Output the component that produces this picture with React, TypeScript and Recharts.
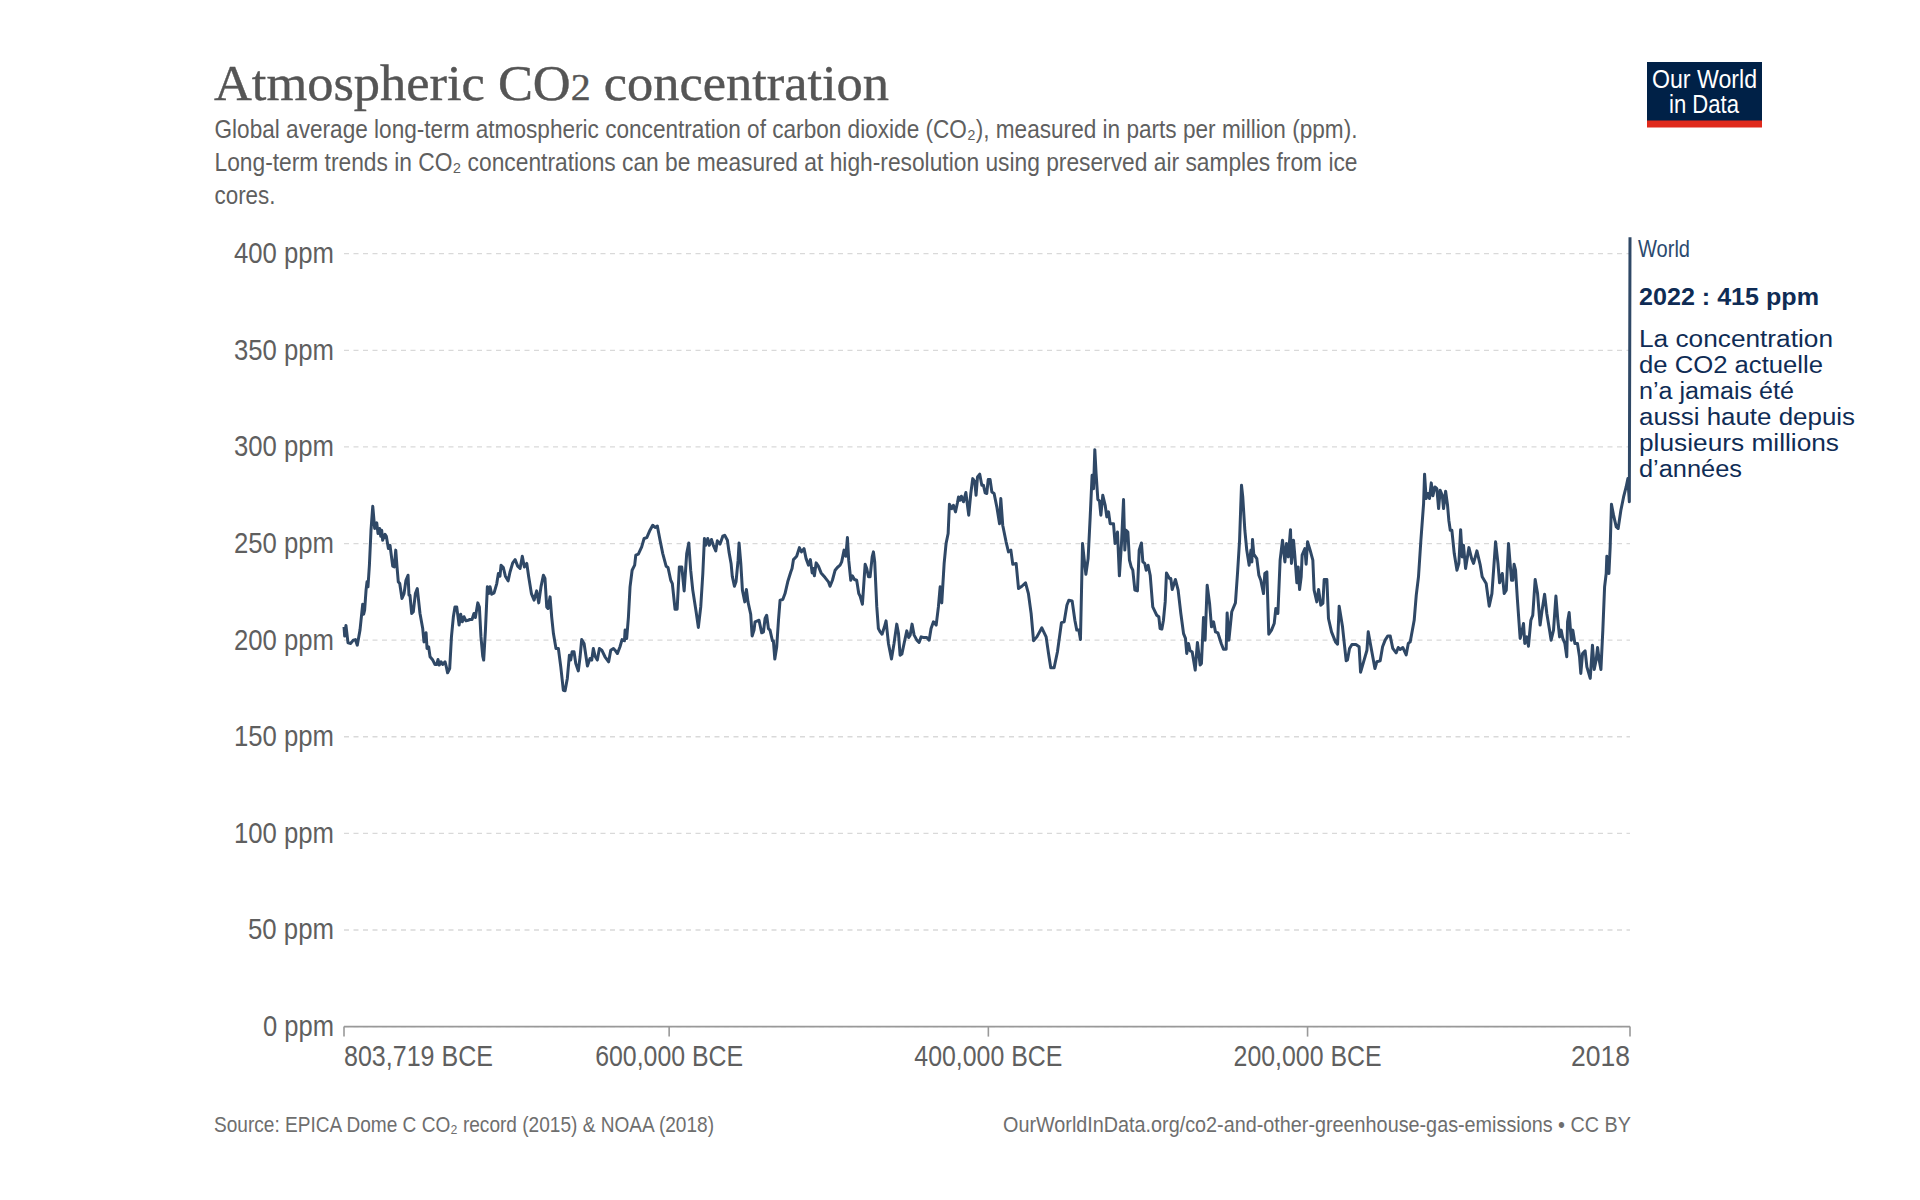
import React from "react";
import { LineChart, Line, XAxis, YAxis, CartesianGrid } from "recharts";

// Years are in thousands of years relative to year 0 (negative = BCE)
const years1 = [-803.7,-803.3,-802.5,-801.2,-799.5,-797.9,-796.6,-795.4,-793.7,-792.0,-791.4,-790.8,-789.9,-789.3,-788.7,-787.8,-786.8,-785.7,-784.5,-783.2,-782.4,-781.4,-780.7,-780.1,-779.5,-778.0,-777.2,-775.9,-774.9,-773.2,-772.2,-771.3,-770.5,-769.7,-768.8,-767.4,-766.1,-764.9,-763.6,-763.0,-762.4,-761.3,-760.3,-759.0,-757.8,-756.1,-754.4,-753.6,-752.3,-751.7,-750.7,-749.8,-748.1,-746.7,-745.6,-744.8,-744.0,-742.9,-741.9,-740.4,-739.6,-738.8,-737.5,-736.4,-735.2,-734.2,-733.1,-731.6,-730.6,-729.6,-728.5,-727.3,-726.0,-724.8,-723.5,-722.3,-721.4,-719.9,-718.9,-717.9,-716.8,-716.2,-715.1,-713.9,-713.1,-712.2,-711.2,-709.7,-708.0,-707.0,-706.0,-705.3,-703.9,-702.6,-700.9,-699.7,-698.0,-696.5,-694.9,-693.4,-692.0,-690.7,-689.2,-688.0,-686.3,-684.6,-683.0,-681.7,-680.3,-678.8,-677.8,-676.7,-675.9,-674.6,-673.6,-672.5,-670.9,-669.4,-667.9,-666.3,-665.2,-663.8,-662.5,-661.7,-660.8,-659.6,-658.5,-656.9,-655.8,-654.8,-653.3,-651.2,-649.6,-648.5,-647.5,-646.4,-645.0,-643.7,-642.2,-640.2,-637.9,-636.6,-634.9,-633.9,-632.4,-630.8,-629.5,-628.0,-627.6,-626.6,-625.5,-624.5,-623.2,-621.6,-620.9,-619.3,-617.2,-615.7,-614.0,-612.0,-610.3,-608.8,-607.4,-605.7,-604.0,-601.9,-600.7,-599.0,-598.0,-596.3,-595.0,-593.6,-592.1,-590.6,-589.0,-587.7,-586.5,-585.2,-583.1,-581.7,-580.2,-578.9,-577.9,-577.1,-575.8,-574.8,-573.5,-572.3,-570.8,-569.8,-568.1,-566.4,-565.2];
const ppm1 = [206.9,202.1,207.6,198.6,198.3,200,200.3,197.4,205.2,218.6,213.4,215.5,225.9,230.2,227.6,238.8,256.9,269.3,257.8,260.7,255.2,257.8,253.8,256.9,251.7,254.8,253.8,247.4,249.1,238.3,237.9,246.6,237.9,230.2,229.3,221.6,224.1,231,233.6,223.3,223.3,213.8,214.7,224.1,226.7,213.8,206,199.1,203.8,195.7,196.6,191.4,189.7,187.4,187.4,190,187.1,188.8,187.4,188.8,186.2,183.1,185.3,201.7,212.1,217.2,217.2,207.8,213.4,209.5,212.1,210,210.3,210.7,210.7,213.8,211.7,219.3,217.2,201.7,191.7,189.7,205.2,227.6,224.1,227.6,223.8,224.5,229.3,234.5,233.1,238.8,237.6,233.1,230.7,235.3,240,241.7,238.3,237.1,243.4,237.9,239.7,232.8,224.1,220.7,225.5,219.3,227.6,233.6,231.9,217.2,216.4,222.4,212.1,203.4,195.7,195.7,186.2,174.1,173.8,180.2,192.2,189.7,194,194,187.9,184.1,191.4,200.3,198.3,186.6,190.5,189.7,195.7,191.7,189.7,195.7,194.8,191.4,188.8,194.8,195.7,194.8,193.1,196.6,200.3,199.7,205.2,200.9,212.1,227.6,236.2,238.8,244,244.5,248.3,252.6,253.1,256.9,259.5,258.3,259.1,251.7,244.8,238.3,237.6,231,229.3,216,216,237.9,237.9,225.5,244.8,250.3,236.2,225.9,214.7,206.6,217.2,234.5,252.6,249.1,252.6,249.1,252.1,249.1,246.2,251.4,249.7,253.8,254.3];

const years2 = [-563.5,-562.5,-561.2,-560.4,-559.1,-558.1,-556.8,-556.2,-555.1,-554.1,-552.6,-551.6,-550.6,-548.9,-548.0,-546.8,-546.2,-544.7,-543.7,-542.0,-540.9,-539.9,-538.9,-537.8,-536.8,-535.3,-534.7,-533.8,-532.6,-531.5,-530.5,-528.8,-527.4,-525.7,-523.8,-523.0,-522.1,-520.1,-518.4,-517.1,-515.5,-514.2,-512.7,-511.5,-510.4,-509.6,-509.0,-507.9,-506.5,-504.8,-502.3,-500.2,-499.2,-497.7,-496.0,-494.6,-492.9,-491.9,-490.4,-489.3,-488.3,-487.5,-486.2,-485.2,-483.9,-482.5,-481.2,-480.4,-478.9,-477.2,-476.2,-475.1,-474.1,-472.8,-472.0,-471.2,-469.9,-468.9,-467.8,-466.6,-465.1,-464.1,-462.6,-460.7,-459.1,-457.4,-456.3,-455.3,-454.2,-452.8,-451.1,-449.9,-449.0,-447.8,-446.5,-444.8,-443.4,-442.1,-440.7,-438.6,-437.1,-435.9,-434.4,-432.7,-431.3,-430.2,-429.2,-427.7,-426.5,-425.2,-424.4,-422.9,-421.9,-420.6,-419.4,-418.7,-417.7,-416.9,-415.6,-414.1,-412.3,-411.0,-409.8,-408.5,-407.7,-406.8,-405.4,-404.1,-403.1,-402.0,-401.0,-400.1,-398.9,-397.8,-396.4,-394.7,-393.0,-392.2,-391.0,-388.9,-387.4,-385.9,-384.7,-382.6,-381.1,-379.0,-376.7,-374.9,-373.2,-371.7,-369.6,-366.5,-363.8,-362.3,-360.9,-358.8,-356.7,-354.2,-352.5,-350.8,-349.6,-347.5,-345.8,-344.6,-343.3,-342.3,-341.4,-341.0,-340.0,-338.9,-337.5,-336.2,-335.0,-334.1,-333.3,-332.5,-331.4,-330.4,-329.5,-328.3,-326.8,-325.8,-324.7,-323.7];
const ppm2 = [251.7,245.7,239.7,232.8,227.9,230.2,241.4,250.3,239.7,225.9,219.8,226.2,219.8,213.4,202.2,205.2,209.5,210,210.3,203.8,204.3,211.2,212.9,206,205.2,199.7,199.7,190.2,196.6,210.3,220.7,221,224.1,230.2,235.3,237.1,241.7,243.4,247.9,245.7,247.4,242.2,238.8,241.7,234.8,237.1,233.3,240,238.3,234.8,232.4,230.2,227.9,231,236.2,237.6,238.8,240.5,246.6,243.4,253.1,241.4,231,233.3,231.4,231,224.1,222.9,218.6,239.3,237.1,232.8,232.8,243.1,245.7,240.5,217.2,206,204.3,203.1,206.9,210,198.3,190.3,198.3,208.3,203.4,192.2,192.8,198.3,204.8,201.4,202.6,208.3,202.6,200,198.8,201.7,201.4,201.4,200,206,209.5,207.8,217.2,227.6,219.3,239.7,250,255.2,270.3,268.1,269.8,266.4,271,274.1,272.4,274.5,271.6,276.4,264.7,275.9,283.6,281.9,275,284.5,285.9,280.2,280.2,276.2,275.9,283.1,283.1,276.7,275.9,269,260.3,273.3,259.5,250.9,245.7,246.6,239.3,239.7,226.7,227.9,229.7,224.1,213.8,199.7,201.7,206.4,201.7,193.1,185.7,185.7,194,209.1,209.5,218.1,220.7,220.3,210.3,205.2,205.2,200.3,234.5,250,242.2,234.1,242.2,263.8,285.3,278.4,298.6,286.2,272.8,272.1,264.7,275,269.8,263.8,266.4,260.3];

const years3 = [-321.6,-320.6,-319.1,-317.9,-316.6,-315.3,-314.5,-313.7,-312.6,-311.6,-310.5,-309.5,-308.2,-306.6,-305.5,-304.1,-303.2,-302.0,-301.1,-299.9,-298.6,-297.0,-294.5,-293.2,-292.4,-291.3,-290.3,-289.2,-288.4,-286.5,-285.7,-284.8,-282.8,-281.1,-279.4,-277.7,-276.5,-275.7,-274.6,-273.6,-272.3,-270.4,-269.0,-267.3,-266.5,-265.2,-264.2,-262.9,-261.4,-260.2,-258.9,-257.7,-256.2,-254.1,-252.7,-251.0,-250.4,-249.3,-247.5,-245.2,-243.9,-242.6,-241.4,-240.6,-239.3,-238.1,-236.6,-235.5,-234.9,-234.5,-233.7,-231.8,-230.5,-229.3,-227.6,-226.8,-225.5,-224.3,-222.6,-220.9,-219.9,-218.6,-217.2,-215.7,-214.2,-213.2,-212.1,-210.7,-210.1,-208.8,-208.0,-206.7,-205.9,-205.0,-204.0,-203.4,-201.7,-200.9,-200.0,-198.4,-196.7,-195.9,-194.2,-193.1,-191.7,-190.4,-189.6,-187.9,-186.9,-185.0,-182.5,-181.2,-180.2,-178.1,-177.0,-175.8,-175.0,-173.7,-172.2,-169.7,-167.7,-166.8,-164.9,-162.8,-162.0,-160.3,-157.8,-156.6,-154.5,-153.0,-151.4,-149.7,-148.2,-146.6,-144.5,-143.2,-142.0,-140.3,-138.2,-136.9,-135.7,-133.2,-131.9,-130.5,-129.0,-127.3,-126.7,-125.7,-124.6,-123.6,-122.5,-121.5,-120.2,-119.0,-117.9,-116.9,-115.6,-114.8,-113.5,-112.3,-111.5,-110.6,-109.6,-108.1,-106.4,-105.2,-104.1,-103.1,-102.3,-101.0,-98.9,-97.2,-96.0,-93.9,-91.8,-90.6,-88.1,-86.2,-84.5,-82.2,-80.7,-79.7,-78.0,-76.8,-75.5];
const ppm3 = [260.3,250,256,233.3,250,272.8,246.6,256.9,256,241.4,237.9,236.2,225.9,225.5,246.6,250.3,240.5,239.7,236.2,238.8,233.6,217.2,212.9,212.1,206,205.7,210.3,219.8,234.8,231.9,231.9,226.2,231.4,225.9,213.8,203.4,200.9,193.1,198.3,194.5,194,184.5,198.8,187.1,187.9,211.7,200,228.4,219,206.9,209.5,204.3,203.8,198.3,195.3,195.3,214.1,200,214.7,219.3,234.5,251.7,280.2,274.1,256.9,246.6,238.8,246.6,240.5,252.1,244.5,242.2,233.6,231,224.1,234.5,235.3,203.1,205.2,208.6,216.4,213.8,241.4,251.7,240.5,250,243.1,257.2,239.7,251.7,244,229.7,237.9,226.2,232.8,244,247.4,239.3,250.9,246.6,241.4,225.9,219.8,226.2,218.1,219,231.4,231.4,211.2,204.3,199.1,197.9,217.6,206.9,198.3,189.3,189.7,195.7,197.8,197.8,196.6,183.4,188.8,194.8,204.3,196.6,185.3,188.8,189.3,196.6,200,202.2,202.1,195.7,193.4,196.2,195.2,196.2,192.4,198.3,199.1,210.3,223.3,232.8,251.7,270.7,285.9,273.3,275.9,273.3,281.4,274.7,279.3,278.4,268.1,277.6,275,268.1,277.1,269.8,262.1,256.9,256.9,244.8,236.2,239.7,257.2,243.1,249.1,237.1,247.9,242.2,239.7,246.2,238.8,232.8,229.3,217.6,224.1,250.9,239.7,229.7,234.5,224.1,225.9];

const years4 = [-74.1,-73.1,-72.2,-71.4,-70.6,-69.7,-68.5,-66.8,-65.5,-64.7,-63.9,-62.6,-61.6,-60.1,-58.9,-57.4,-55.9,-54.3,-53.2,-51.5,-50.1,-48.4,-47.4,-45.9,-44.4,-43.2,-42.1,-41.1,-40.1,-38.8,-37.6,-37.1,-36.1,-34.8,-33.8,-32.5,-30.9,-29.6,-28.8,-27.7,-26.1,-25.0,-22.9,-21.5,-20.4,-19.2,-18.3,-17.3,-16.2,-15.0,-13.9,-12.9,-12.5,-11.2,-10.4,-9.6,-8.3,-6.6,-5.4,-3.7,-2.0,-0.4,0.7,1.6,2.018];
const ppm4 = [250,239.7,231,231,239.3,236.2,220.7,200.9,205.2,208.6,198.3,201.7,196.9,210.3,212.9,231.4,224.1,207.8,214.7,223.8,213.8,205.2,200,205.2,222.8,210.3,201.7,205.2,200.9,198.3,191.4,209.5,214.3,200,205.2,198.3,198.3,191.4,182.8,193.1,194.5,186.2,180.2,197.4,184.8,189.7,196.2,189.7,184.8,205.2,227.6,234.5,243.4,234.5,248.3,270.3,264.7,258.6,257.8,267.2,274.1,279.3,283.6,271.6,408.5];

const xTickValues = [-803.719, -600, -400, -200, 2.018];
const xTickLabels = ["803,719 BCE", "600,000 BCE", "400,000 BCE", "200,000 BCE", "2018"];
const xTickWidths = [149, 148, 148, 148, 59];
const yTickValues = [0, 50, 100, 150, 200, 250, 300, 350, 400];
const yTickWidths = [71, 86, 100, 100, 100, 100, 100, 100, 100];

const subtitleLines = [
  "Global average long-term atmospheric concentration of carbon dioxide (CO₂), measured in parts per million (ppm).",
  "Long-term trends in CO₂ concentrations can be measured at high-resolution using preserved air samples from ice",
  "cores.",
];
const noteLines = ["La concentration", "de CO2 actuelle", "n’a jamais été", "aussi haute depuis", "plusieurs millions", "d’années"];

const data = [
  ...years1.map((year, i) => ({ year, ppm: ppm1[i] })),
  ...years2.map((year, i) => ({ year, ppm: ppm2[i] })),
  ...years3.map((year, i) => ({ year, ppm: ppm3[i] })),
  ...years4.map((year, i) => ({ year, ppm: ppm4[i] })),
];

const SANS = "'Liberation Sans', Arial, sans-serif";
const SERIF = "'Liberation Serif', Georgia, serif";
const GREY = "#5f5f5f";
const NAVY = "#0f2c55";

function T({ x, y, w, size, fill = GREY, anchor = "start", weight = 400, family = SANS, heavy = 0, children }: any) {
  return (
    <text x={x} y={y} fontSize={size} fill={fill} fontFamily={family} fontWeight={weight} textAnchor={anchor}
      stroke={heavy ? fill : undefined} strokeWidth={heavy || undefined}
      textLength={w} lengthAdjust="spacingAndGlyphs">{children}</text>
  );
}

function XTick({ x, y, payload, index }: any) {
  const last = xTickValues.length - 1;
  const anchor = index === 0 ? "start" : index === last ? "end" : "middle";
  return <T x={x} y={y + 29.5} w={xTickWidths[index]} size={30} anchor={anchor}>{xTickLabels[xTickValues.indexOf(payload.value)]}</T>;
}

function YTick({ y, payload, index }: any) {
  return <T x={334} y={y + 9.5} w={yTickWidths[index]} size={30} anchor="end">{`${payload.value} ppm`}</T>;
}

export default function App() {
  return (
    <div style={{ position: "absolute", left: 0, top: 0, width: 1920, height: 1200, background: "#fff" }}>
      <LineChart width={1920} height={1200} data={data} margin={{ top: 237.3, right: 290, bottom: 113.4, left: 244 }}>
        <CartesianGrid vertical={false} horizontalValues={yTickValues} stroke="#d9d9d9" strokeWidth={1.3} strokeDasharray="5 4.5" />
        <XAxis dataKey="year" type="number" domain={[-803.719, 2.018]} ticks={xTickValues} height={60}
          interval={0} tickSize={10} tickMargin={0} stroke="#999" strokeWidth={1.6} tick={<XTick />} />
        <YAxis type="number" domain={[0, 408.5]} ticks={yTickValues} width={100} axisLine={false} tickLine={false}
          interval={0} tick={<YTick />} />
        <Line dataKey="ppm" type="linear" dot={false} activeDot={false} stroke="#2f4866" strokeWidth={3}
          strokeLinejoin="round" isAnimationActive={false} />
      </LineChart>
      <svg width={1920} height={1200} style={{ position: "absolute", left: 0, top: 0, pointerEvents: "none" }}>
        <T x={214} y={100} w={675} size={50} fill="#555555" family={SERIF} heavy={0.4}>
          Atmospheric CO<tspan fontSize={38}>2</tspan> concentration
        </T>
        <T x={214.5} y={138} w={1143} size={25.5}>{subtitleLines[0]}</T>
        <T x={214.5} y={171} w={1143} size={25.5}>{subtitleLines[1]}</T>
        <T x={214.5} y={204} w={61} size={25.5}>{subtitleLines[2]}</T>

        <rect x={1647} y={62} width={115} height={59} fill="#002147" />
        <rect x={1647} y={120.5} width={115} height={7} fill="#e02a1c" />
        <T x={1652} y={88} w={105} size={25} fill="#ffffff">Our World</T>
        <T x={1669} y={112.5} w={70} size={25} fill="#ffffff">in Data</T>

        <T x={1638} y={257} w={52} size={24} fill="#2b4a6f">World</T>
        <T x={1639} y={305} w={180} size={23} fill={NAVY} weight={700}>2022 : 415 ppm</T>
        <T x={1639} y={346.5} w={194} size={23} fill={NAVY}>{noteLines[0]}</T>
        <T x={1639} y={372.6} w={184} size={23} fill={NAVY}>{noteLines[1]}</T>
        <T x={1639} y={398.7} w={155} size={23} fill={NAVY}>{noteLines[2]}</T>
        <T x={1639} y={424.8} w={216} size={23} fill={NAVY}>{noteLines[3]}</T>
        <T x={1639} y={450.9} w={200} size={23} fill={NAVY}>{noteLines[4]}</T>
        <T x={1639} y={477} w={103} size={23} fill={NAVY}>{noteLines[5]}</T>

        <T x={214} y={1131.5} w={500} size={22} fill="#6e6e6e">Source: EPICA Dome C CO₂ record (2015) &amp; NOAA (2018)</T>
        <T x={1631} y={1131.5} w={628} size={22} fill="#6e6e6e" anchor="end">OurWorldInData.org/co2-and-other-greenhouse-gas-emissions • CC BY</T>
      </svg>
    </div>
  );
}
